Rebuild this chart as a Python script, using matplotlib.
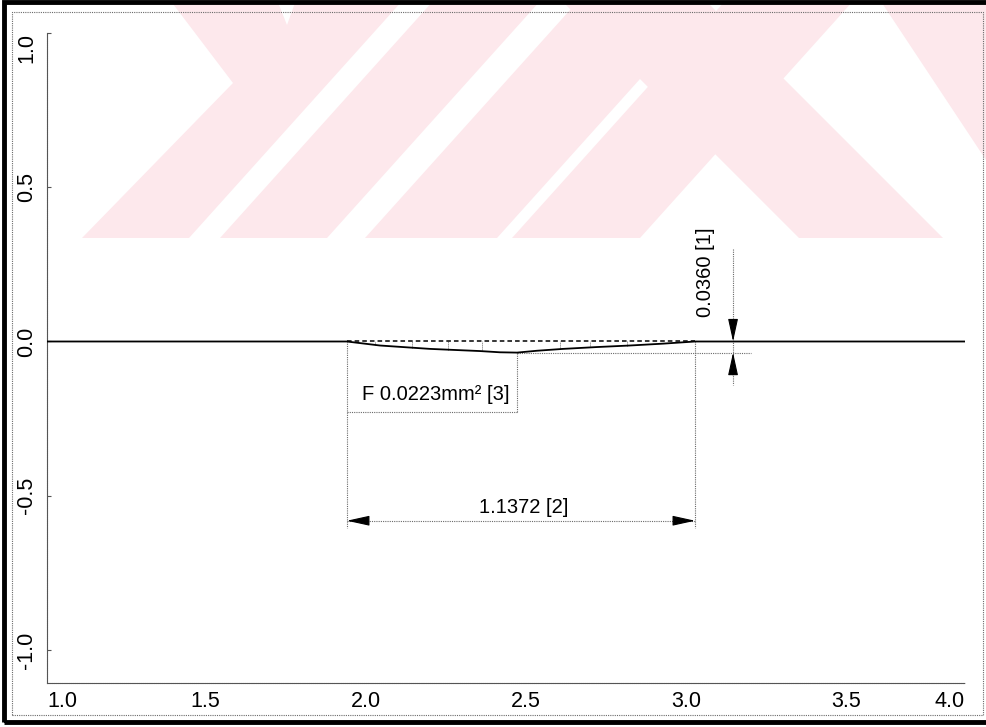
import numpy as np
import matplotlib.pyplot as plt
from matplotlib.patches import Polygon, Rectangle

plt.rcParams['font.family'] = ['Liberation Sans', 'DejaVu Sans']

# measured profile (mm), flat outside the groove
profile_x = [1.0, 1.98, 2.088, 2.252, 2.415, 2.48, 2.536, 2.601, 2.686, 2.797, 2.905, 3.013, 3.118, 4.0]
profile_y = [0.0, 0.0, -0.013, -0.024, -0.031, -0.035, -0.036, -0.030, -0.024, -0.018, -0.013, -0.007, 0.0, 0.0]

groove_start = 1.98
groove_end = 3.118
groove_min_x = 2.536
groove_depth = -0.036
hatch_x = [2.072, 2.193, 2.310, 2.422, 2.676, 2.775, 2.895]

depth_label = '0.0360 [1]'
width_label = '1.1372 [2]'
area_label = 'F 0.0223mm² [3]'

y_ticks = [-1.0, -0.5, 0.0, 0.5, 1.0]
y_tick_labels = ['-1.0', '-0.5', '0.0', '0.5', '1.0']
x_tick_values = [1.0, 1.5, 2.0, 2.5, 3.0, 3.5, 4.0]
x_tick_labels = ['1.0', '1.5', '2.0', '2.5', '3.0', '3.5', '4.0']

W, H = 986, 727
GRAY = '#6a6a6a'
PINK = '#fde8ec'


def fig_xy(points):
    """pixel coords (from top-left) -> figure fraction"""
    return [(x / W, 1 - y / H) for x, y in points]


def label_pos(v):
    # the printed scale labels drift slightly against the plotted scale
    if v <= 1.0 or v >= 4.0:
        return v
    return 1 + ((v - 1) * 320.6 - 2) / 306


fig = plt.figure(figsize=(W / 100, H / 100), dpi=100)

# watermark stripes of the scanned page
watermark = [
    [(170, 0), (277, 0), (287, 25), (296, 0), (403, 0), (189, 238), (82, 238), (233, 83)],
    [(434, 0), (541, 0), (327, 238), (220, 238)],
    [(579, 0), (711, 0), (497, 238), (365, 238)],
    [(726, 0), (854, 0), (640, 238), (512, 238)],
    [(561, 0), (705, 0), (943, 238), (799, 238)],
    [(880, 0), (986, 0), (986, 160)],
]
for pts in watermark:
    fig.add_artist(Polygon(fig_xy(pts), closed=True, transform=fig.transFigure,
                           facecolor=PINK, edgecolor='none', zorder=-5))

# page frames
(x0, y0), = fig_xy([(4, 722)])
fig.add_artist(Rectangle((x0, y0), (992 - 4) / W, (722 - 1.5) / H, transform=fig.transFigure,
                         fill=False, edgecolor='black', linewidth=3.5, zorder=-4))
(x0, y0), = fig_xy([(12, 715)])
fig.add_artist(Rectangle((x0, y0), (983 - 12) / W, (715 - 12) / H, transform=fig.transFigure,
                         fill=False, edgecolor=GRAY, linewidth=0.8, linestyle=(0, (1, 1)), zorder=-4))

ax = fig.add_axes([47 / W, 1 - 683 / H, 918 / W, 650 / H])
ax.patch.set_alpha(0)
ax.set_xlim(1.0, 4.0)
ax.set_ylim(-1.107, 1.0)

for side in ['top', 'right']:
    ax.spines[side].set_visible(False)
for side in ['left', 'bottom']:
    ax.spines[side].set_color('#555555')
    ax.spines[side].set_linewidth(0.8)
    ax.spines[side].set_linestyle((0, (1, 0.7)))

ax.set_yticks(y_ticks)
ax.set_yticklabels(y_tick_labels, rotation=90, fontsize=15.5)
ax.tick_params(axis='y', direction='in', length=3, color='#555555', pad=7)
for lab in ax.get_yticklabels():
    lab.set_va('center')
ax.get_yticklabels()[-1].set_va('top')

ax.set_xticks([label_pos(v) for v in x_tick_values])
ax.set_xticklabels(x_tick_labels, fontsize=15.5)
ax.tick_params(axis='x', length=0, pad=6)
ax.get_xticklabels()[0].set_ha('left')
ax.get_xticklabels()[-1].set_ha('right')

# reference line across the groove and the profile itself
ax.plot([groove_start, groove_end], [0, 0], color='black', lw=1.1, ls=(0, (3, 2)), zorder=3)
ax.plot(profile_x, profile_y, color='black', lw=1.3, zorder=4)
hatch_y = np.interp(hatch_x, profile_x, profile_y)
ax.vlines(hatch_x, hatch_y, 0, color=GRAY, lw=0.7, ls=(0, (1, 1)))

dim = dict(color=GRAY, lw=0.8, ls=(0, (1, 1)))
arrow = dict(arrowstyle='-|>,head_length=1.0,head_width=0.22', color='black', lw=0.8,
             shrinkA=0, shrinkB=0, mutation_scale=14)

# width dimension [2]
dim_y = -0.581
ax.plot([groove_start, groove_start], [0, -0.604], **dim)
ax.plot([groove_end, groove_end], [0, -0.604], **dim)
ax.plot([groove_start, groove_end], [dim_y, dim_y], **dim)
ax.annotate('', xy=(groove_start, dim_y), xytext=(groove_start + 0.065, dim_y), arrowprops=arrow)
ax.annotate('', xy=(groove_end, dim_y), xytext=(groove_end - 0.065, dim_y), arrowprops=arrow)
ax.text((groove_start + groove_end) / 2 + 0.01, dim_y + 0.042, width_label, fontsize=14.5,
        ha='center', va='center')

# depth dimension [1]
depth_x = 3.242
ax.plot([groove_min_x, depth_x + 0.06], [groove_depth, groove_depth], **dim)
ax.plot([depth_x, depth_x], [0.3, -0.14], **dim)
ax.annotate('', xy=(depth_x, 0), xytext=(depth_x, 0.068), arrowprops=arrow)
ax.annotate('', xy=(depth_x, groove_depth), xytext=(depth_x, groove_depth - 0.072), arrowprops=arrow)
ax.text(depth_x - 0.09, 0.081, depth_label, fontsize=14.5, rotation=90, ha='center', va='bottom')

# area label [3]
box_y = -0.23
ax.plot([groove_min_x, groove_min_x], [groove_depth, box_y], **dim)
ax.plot([groove_start, groove_min_x], [box_y, box_y], **dim)
ax.text(2.03, -0.172, area_label, fontsize=14.5, ha='left', va='center')

fig.savefig('out.png', dpi=100)
